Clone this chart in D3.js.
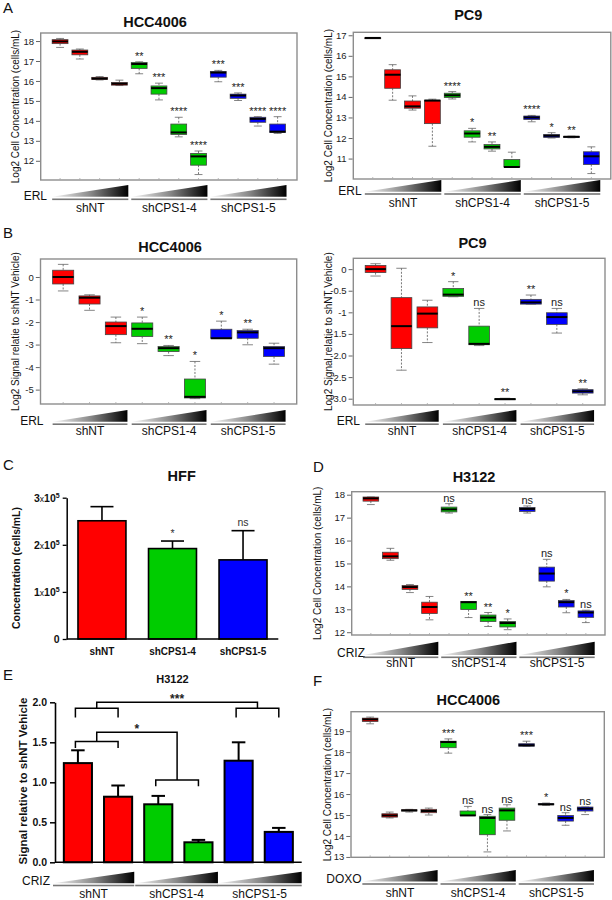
<!DOCTYPE html>
<html><head><meta charset="utf-8">
<script src="https://cdn.jsdelivr.net/npm/d3@7"></script>
<style>
body{margin:0;background:#fff}
svg{display:block;font-family:"Liberation Sans",Arial,Helvetica,sans-serif}
</style>
</head><body>
<svg id="fig" width="612" height="900"></svg>
<script>
// ---------------- DATA ----------------
const groups = ["shNT", "shCPS1-4", "shCPS1-5"];
const groupColors = ["#ff0000", "#00cc00", "#0000ff"];

// Panel A, HCC4006 + ERL (12 boxes, 4 per group)
const aHccGroup = [0,0,0,0,1,1,1,1,2,2,2,2];
const aHccHi  = [18.13,17.60,16.22,16.04,16.96,15.89,14.18,12.49,16.53,15.40,14.21,14.21];
const aHccQ3  = [18.07,17.55,16.18,15.92,16.93,15.75,13.84,12.37,16.47,15.34,14.18,13.84];
const aHccMed = [17.98,17.46,16.12,15.86,16.85,15.64,13.42,12.22,16.42,15.27,14.10,13.46];
const aHccQ1  = [17.87,17.31,16.07,15.79,16.63,15.34,13.32,11.78,16.19,15.13,13.93,13.42];
const aHccLo  = [17.68,17.10,16.05,15.77,16.36,15.05,13.20,11.31,15.96,15.02,13.74,13.37];
const aHccSig = ["","","","","**","***","****","****","***","***","****","****"];
const aHccTicks = [12,13,14,15,16,17,18];

// Panel A, PC9 + ERL
const aPc9Group = [0,0,0,0,1,1,1,1,2,2,2,2];
const aPc9Hi  = [16.88,15.57,14.05,13.89,14.26,12.47,11.81,11.31,13.10,12.26,12.09,11.57];
const aPc9Q3  = [16.88,15.32,13.80,13.84,14.18,12.35,11.68,10.95,13.07,12.17,12.08,11.33];
const aPc9Med = [16.87,15.08,13.54,13.82,14.08,12.22,11.57,10.59,13.00,12.11,12.06,11.11];
const aPc9Q1  = [16.86,14.42,13.45,12.70,13.97,12.04,11.47,10.59,12.90,12.03,12.03,10.71];
const aPc9Lo  = [16.86,13.84,13.36,11.60,13.90,11.81,11.36,10.59,12.79,12.00,12.01,10.27];
const aPc9Sig = ["","","","","****","*","**","","****","*","**",""];
const aPc9Ticks = [11,12,13,14,15,16,17];

// Panel B, HCC4006 + ERL (9 boxes, 3 per group)
const bHccGroup = [0,0,0,1,1,1,2,2,2];
const bHccHi  = [0.56,-0.79,-1.78,-1.78,-3.04,-3.75,-1.96,-2.32,-2.94];
const bHccQ3  = [0.30,-0.84,-2.00,-2.04,-3.09,-4.53,-2.32,-2.38,-3.09];
const bHccMed = [0.00,-0.92,-2.18,-2.30,-3.16,-5.32,-2.72,-2.46,-3.16];
const bHccQ1  = [-0.31,-1.20,-2.56,-2.64,-3.31,-5.37,-2.72,-2.72,-3.53];
const bHccLo  = [-0.62,-1.48,-2.92,-2.96,-3.49,-5.40,-2.72,-3.01,-3.87];
const bHccSig = ["","","","*","**","*","*","**",""];
const bHccTicks = [0,-1,-2,-3,-4,-5];
const bHccTickLabels = ["0","-1","-2","-3","-4","-5"];

// Panel B, PC9 + ERL
const bPc9Group = [0,0,0,1,1,1,2,2,2];
const bPc9Hi  = [0.125,0.02,-0.72,-0.29,-0.91,-2.99,-0.60,-0.91,-2.77];
const bPc9Q3  = [0.086,-0.66,-0.875,-0.45,-1.32,-3.00,-0.70,-1.01,-2.79];
const bPc9Med = [0.00,-1.32,-1.03,-0.59,-1.73,-3.01,-0.77,-1.11,-2.83];
const bPc9Q1  = [-0.08,-1.84,-1.36,-0.63,-1.75,-3.02,-0.81,-1.28,-2.87];
const bPc9Lo  = [-0.16,-2.34,-1.70,-0.64,-1.77,-3.02,-0.81,-1.48,-2.91];
const bPc9Sig = ["","","","*","ns","**","**","ns","**"];
const bPc9Ticks = [0,-0.5,-1,-1.5,-2,-2.5,-3];
const bPc9TickLabels = ["0","-0.5","-1","-1.5","-2.0","-2.5","-3.0"];

// Panel C, HFF bar chart
const cMean = [2.51e5, 1.92e5, 1.68e5];
const cSem  = [0.30e5, 0.16e5, 0.62e5];
const cSig  = ["", "*", "ns"];
const cTicks = [0, 1e5, 2e5, 3e5];

// Panel D, H3122 + CRIZ
const dGroup = [0,0,0,0,1,1,1,1,2,2,2,2];
const dHi  = [17.90,15.66,14.08,13.56,17.61,13.34,12.86,12.58,17.51,15.18,13.43,12.96];
const dQ3  = [17.90,15.49,14.04,13.31,17.46,13.34,12.75,12.47,17.44,14.84,13.38,12.93];
const dMed = [17.84,15.31,13.97,13.10,17.36,13.31,12.64,12.40,17.38,14.56,13.31,12.86];
const dQ1  = [17.72,15.21,13.87,12.82,17.25,12.99,12.47,12.23,17.27,14.23,13.10,12.65];
const dLo  = [17.57,15.14,13.73,12.54,17.20,12.64,12.25,12.11,17.20,13.98,12.85,12.42];
const dSig = ["","","","","ns","**","**","*","ns","ns","*","ns"];
const dTicks = [12,13,14,15,16,17,18];

// Panel E, H3122 bar chart + CRIZ
const eGroup = [0,0,1,1,2,2];
const eMean = [1.24, 0.82, 0.725, 0.25, 1.27, 0.38];
const eSem  = [0.16, 0.14, 0.105, 0.03, 0.23, 0.05];
const eTicks = [0, 0.5, 1.0, 1.5, 2.0];
const eTickLabels = ["0.0","0.5","1.0","1.5","2.0"];
const eBrackets = [
  {label: "***", a: [0,1], b: [4,5], top: 2.0,   subA: 1.925, subB: 1.925, end: 0.115},
  {label: "*",   a: [0,1], b: [2,3], top: 1.625, subA: 1.51,  subB: 1.03,  end: 0.08}
];

// Panel F, HCC4006 + DOXO
const fGroup = [0,0,0,0,1,1,1,1,2,2,2,2];
const fHi  = [19.67,15.14,15.27,15.33,18.63,15.41,15.02,15.49,18.52,15.57,15.11,15.38];
const fQ3  = [19.62,15.06,15.25,15.27,18.52,15.19,14.94,15.33,18.40,15.54,14.98,15.38];
const fMed = [19.56,14.98,15.22,15.19,18.48,14.98,14.86,15.22,18.33,15.51,14.86,15.30];
const fQ1  = [19.46,14.90,15.19,15.11,18.21,14.98,14.06,14.75,18.28,15.49,14.71,15.19];
const fLo  = [19.35,14.86,15.14,15.00,17.95,14.98,13.24,14.24,18.28,15.46,14.51,15.02];
const fSig = ["","","","","***","ns","ns","ns","***","*","ns","ns"];
const fTicks = [13,14,15,16,17,18,19];

// ---------------- DRAWING ----------------
const FONT = '"Liberation Sans", Arial, Helvetica, sans-serif';
const svg = d3.select("#fig");
const defs = svg.append("defs");
const grad = defs.append("linearGradient").attr("id","wedgeGrad")
  .attr("x1","0").attr("x2","1").attr("y1","0").attr("y2","0");
grad.append("stop").attr("offset","0").attr("stop-color","#f6f6f6");
grad.append("stop").attr("offset","0.5").attr("stop-color","#8a8a8a");
grad.append("stop").attr("offset","1").attr("stop-color","#000");

function txt(g, s, x, y, opt = {}) {
  return g.append("text").attr("x", x).attr("y", y).text(s)
    .attr("font-family", FONT)
    .attr("font-size", opt.size || 10)
    .attr("font-weight", opt.weight || "normal")
    .attr("text-anchor", opt.anchor || "start")
    .attr("fill", opt.fill || "#111");
}
function ylabel(g, s, x, cy, opt = {}) {
  return g.append("text").attr("transform", `translate(${x},${cy}) rotate(-90)`)
    .attr("dy", "0.35em").text(s)
    .attr("font-family", FONT).attr("font-size", opt.size || 10)
    .attr("font-weight", opt.weight || "normal")
    .attr("text-anchor", "middle").attr("fill", "#111");
}
function wedge(g, x0, x1, top, bot, lineY) {
  g.append("path").attr("d", `M${x0},${bot} L${x1},${top} L${x1},${bot} Z`)
    .attr("fill", "url(#wedgeGrad)");
  g.append("rect").attr("x", x0).attr("y", lineY - 0.8).attr("width", x1 - x0).attr("height", 1.6)
    .attr("fill", "#777");
}

function boxPanel(c) {
  const g = svg.append("g");
  const n = c.med.length;
  const F = c.frame;
  const x = d3.scaleLinear().domain([0.5 - 0.04 * n, n + 0.5 + 0.04 * n]).range([F.x, F.x + F.w]);
  const all = c.hi.concat(c.lo);
  const mn = d3.min(all), mx = d3.max(all), ext = 0.04 * (mx - mn);
  const y = d3.scaleLinear().domain([mn - ext, mx + ext]).range([F.y + F.h, F.y]);
  const step = x(2) - x(1), bw = 0.8 * step;

  g.append("rect").attr("x", F.x).attr("y", F.y).attr("width", F.w).attr("height", F.h)
    .attr("fill", "none").attr("stroke", "#8d8d8d").attr("stroke-width", 1.4);
  d3.range(n).forEach(i => {
    g.append("line").attr("x1", x(i + 1)).attr("x2", x(i + 1))
      .attr("y1", F.y + F.h).attr("y2", F.y + F.h - 2).attr("stroke", "#aaa").attr("stroke-width", 0.8);
  });
  const axis = d3.axisLeft(y).tickValues(c.ticks).tickSize(4).tickPadding(2)
    .tickFormat((d, i) => c.tickLabels ? c.tickLabels[i] : String(d));
  const ag = g.append("g").attr("transform", `translate(${F.x - 0.7},0)`).call(axis);
  ag.select(".domain").remove();
  ag.attr("font-family", FONT).attr("font-size", 9.5);
  ag.selectAll("line").attr("stroke", "#666");
  ag.selectAll("text").attr("fill", "#222");

  for (let i = 0; i < n; i++) {
    const cx = x(i + 1);
    const col = groupColors[c.group[i]];
    g.append("line").attr("x1", cx).attr("x2", cx).attr("y1", y(c.hi[i])).attr("y2", y(c.q3[i]))
      .attr("stroke", "#555").attr("stroke-width", 0.8).attr("stroke-dasharray", "2,1.5");
    g.append("line").attr("x1", cx).attr("x2", cx).attr("y1", y(c.q1[i])).attr("y2", y(c.lo[i]))
      .attr("stroke", "#555").attr("stroke-width", 0.8).attr("stroke-dasharray", "2,1.5");
    [c.hi[i], c.lo[i]].forEach(v => {
      g.append("line").attr("x1", cx - bw / 4).attr("x2", cx + bw / 4).attr("y1", y(v)).attr("y2", y(v))
        .attr("stroke", "#666").attr("stroke-width", 0.8);
    });
    const yt = y(c.q3[i]), yb = y(c.q1[i]);
    g.append("rect").attr("x", cx - bw / 2).attr("y", yt).attr("width", bw).attr("height", Math.max(1, yb - yt))
      .attr("fill", col).attr("stroke", "#444").attr("stroke-width", 0.8);
    g.append("line").attr("x1", cx - bw / 2).attr("x2", cx + bw / 2).attr("y1", y(c.med[i])).attr("y2", y(c.med[i]))
      .attr("stroke", "#000").attr("stroke-width", 2);
    if (c.sig[i]) txt(g, c.sig[i], cx, y(c.hi[i]) - 2, {size: 11, anchor: "middle", fill: "#222"});
  }

  txt(g, c.title.text, c.title.x, c.title.y, {size: 14.5, weight: "bold", anchor: "middle"});
  if (c.letter) txt(g, c.letter.text, c.letter.x, c.letter.y, {size: 15});
  ylabel(g, c.ylab, c.ylabX, F.y + F.h / 2, {size: 10});

  const W = c.wedge;
  txt(g, c.drug, W.drugX, W.drugY, {size: 12, anchor: "end"});
  groups.forEach((name, gi) => {
    const idx = d3.range(n).filter(i => c.group[i] === gi);
    const x0 = x(idx[0] + 1) - bw / 2, x1 = x(idx[idx.length - 1] + 1) + bw / 2 + 1;
    wedge(g, x0, x1, W.top, W.bot, W.line);
    txt(g, name, (x0 + x1) / 2, W.labelY, {size: 12, anchor: "middle"});
  });
}

// ---- Panel A
boxPanel({
  frame: {x: 40.7, y: 33, w: 256.3, h: 147},
  group: aHccGroup, hi: aHccHi, q3: aHccQ3, med: aHccMed, q1: aHccQ1, lo: aHccLo, sig: aHccSig,
  ticks: aHccTicks,
  title: {text: "HCC4006", x: 155, y: 26.7},
  letter: {text: "A", x: 3, y: 12.5},
  ylab: "Log2 Cell Concentration (cells/mL)", ylabX: 15.5,
  drug: "ERL",
  wedge: {top: 185, bot: 196.7, line: 199.3, labelY: 211.7, drugX: 47, drugY: 200}
});
boxPanel({
  frame: {x: 353.3, y: 32.3, w: 257.5, h: 146.7},
  group: aPc9Group, hi: aPc9Hi, q3: aPc9Q3, med: aPc9Med, q1: aPc9Q1, lo: aPc9Lo, sig: aPc9Sig,
  ticks: aPc9Ticks,
  title: {text: "PC9", x: 468.3, y: 20},
  ylab: "Log2 Cell Concentration (cells/mL)", ylabX: 328.5,
  drug: "ERL",
  wedge: {top: 180, bot: 191.7, line: 194, labelY: 206.5, drugX: 361.7, drugY: 195}
});
// ---- Panel B
boxPanel({
  frame: {x: 40.5, y: 259, w: 256.2, h: 145},
  group: bHccGroup, hi: bHccHi, q3: bHccQ3, med: bHccMed, q1: bHccQ1, lo: bHccLo, sig: bHccSig,
  ticks: bHccTicks, tickLabels: bHccTickLabels,
  title: {text: "HCC4006", x: 170, y: 251.7},
  letter: {text: "B", x: 3, y: 238},
  ylab: "Log2 Signal relatie to shNT Vehicle)", ylabX: 15.5,
  drug: "ERL",
  wedge: {top: 410, bot: 421.7, line: 424.2, labelY: 435, drugX: 43.5, drugY: 425}
});
boxPanel({
  frame: {x: 353.3, y: 258.3, w: 251.7, h: 146.7},
  group: bPc9Group, hi: bPc9Hi, q3: bPc9Q3, med: bPc9Med, q1: bPc9Q1, lo: bPc9Lo, sig: bPc9Sig,
  ticks: bPc9Ticks, tickLabels: bPc9TickLabels,
  title: {text: "PC9", x: 472.5, y: 248.3},
  ylab: "Log2 Signal relatie to shNT Vehicle)", ylabX: 328.5,
  drug: "ERL",
  wedge: {top: 410, bot: 421.7, line: 424.2, labelY: 435, drugX: 360, drugY: 425}
});
// ---- Panel D
boxPanel({
  frame: {x: 351.7, y: 491.7, w: 253.3, h: 143.3},
  group: dGroup, hi: dHi, q3: dQ3, med: dMed, q1: dQ1, lo: dLo, sig: dSig,
  ticks: dTicks,
  title: {text: "H3122", x: 474, y: 481.7},
  letter: {text: "D", x: 313, y: 471.5},
  ylab: "Log2 Cell Concentration (cells/mL)", ylabX: 317.5,
  drug: "CRIZ",
  wedge: {top: 641.7, bot: 655, line: 657.3, labelY: 667, drugX: 365, drugY: 656.5}
});
// ---- Panel F
boxPanel({
  frame: {x: 351, y: 711.7, w: 253.3, h: 145.6},
  group: fGroup, hi: fHi, q3: fQ3, med: fMed, q1: fQ1, lo: fLo, sig: fSig,
  ticks: fTicks,
  title: {text: "HCC4006", x: 468.3, y: 705},
  letter: {text: "F", x: 313, y: 685.5},
  ylab: "Log2 Cell Concentration (cells/mL)", ylabX: 327.5,
  drug: "DOXO",
  wedge: {top: 870, bot: 881.5, line: 884, labelY: 896.5, drugX: 361.7, drugY: 883.3}
});

// ---- Panel C (bar chart)
(function () {
  const g = svg.append("g");
  const x = d3.scaleBand().domain(groups).range([66.7, 278.3]).paddingInner(0.32).paddingOuter(0.16);
  const y = d3.scaleLinear().domain([0, 3e5]).range([639, 497.7]);
  const bw = x.bandwidth();
  groups.forEach((name, i) => {
    const cx = x(name) + bw / 2;
    g.append("line").attr("x1", cx).attr("x2", cx).attr("y1", y(cMean[i])).attr("y2", y(cMean[i] + cSem[i]))
      .attr("stroke", "#000").attr("stroke-width", 1.6);
    g.append("line").attr("x1", cx - bw * 0.24).attr("x2", cx + bw * 0.24)
      .attr("y1", y(cMean[i] + cSem[i])).attr("y2", y(cMean[i] + cSem[i]))
      .attr("stroke", "#000").attr("stroke-width", 1.6);
    g.append("rect").attr("x", x(name)).attr("y", y(cMean[i])).attr("width", bw).attr("height", y(0) - y(cMean[i]))
      .attr("fill", groupColors[i]).attr("stroke", "#000").attr("stroke-width", 1.6);
    if (cSig[i]) txt(g, cSig[i], cx, y(cMean[i] + cSem[i]) - 4.5, {size: 10.5, anchor: "middle", fill: "#333"});
    txt(g, name, cx, 655, {size: 10, weight: "bold", anchor: "middle"});
  });
  const axis = d3.axisLeft(y).tickValues(cTicks).tickSize(4).tickSizeOuter(0).tickPadding(3);
  const ag = g.append("g").attr("transform", "translate(66.7,0)").call(axis);
  ag.attr("font-family", FONT).attr("font-size", 10.5).attr("font-weight", "bold");
  ag.select(".domain").attr("stroke", "#000").attr("stroke-width", 1.5);
  ag.selectAll("line").attr("stroke", "#000").attr("stroke-width", 1.3);
  ag.selectAll("text").attr("fill", "#111").each(function (d) {
    const t = d3.select(this);
    t.text(null);
    if (d === 0) { t.text("0"); return; }
    t.append("tspan").text(`${d / 1e5}`);
    t.append("tspan").attr("font-size", 8.5).attr("font-weight", "normal").text("x");
    t.append("tspan").text("10");
    t.append("tspan").attr("font-size", 7).attr("dy", -4).text("5");
  });
  g.append("line").attr("x1", 66.7).attr("x2", 278.3).attr("y1", 639).attr("y2", 639)
    .attr("stroke", "#000").attr("stroke-width", 1.5);
  txt(g, "HFF", 181.7, 480.7, {size: 14.5, weight: "bold", anchor: "middle"});
  txt(g, "C", 3, 470, {size: 15});
  ylabel(g, "Concentration (cells/mL)", 16.5, 568, {size: 10.4, weight: "bold"});
})();

// ---- Panel E (bar chart with brackets)
(function () {
  const g = svg.append("g");
  const L = 55, R = 301.7;
  const x = d3.scaleBand().domain(d3.range(eMean.length)).range([L, R]).paddingInner(0.3).paddingOuter(0.22);
  const y = d3.scaleLinear().domain([0, 2]).range([862.3, 702.3]);
  const bw = x.bandwidth();
  const cxOf = i => x(i) + bw / 2;
  eMean.forEach((m, i) => {
    const cx = cxOf(i);
    g.append("line").attr("x1", cx).attr("x2", cx).attr("y1", y(m)).attr("y2", y(m + eSem[i]))
      .attr("stroke", "#000").attr("stroke-width", 2);
    g.append("line").attr("x1", cx - bw * 0.24).attr("x2", cx + bw * 0.24)
      .attr("y1", y(m + eSem[i])).attr("y2", y(m + eSem[i])).attr("stroke", "#000").attr("stroke-width", 2);
    g.append("rect").attr("x", x(i)).attr("y", y(m)).attr("width", bw).attr("height", y(0) - y(m))
      .attr("fill", groupColors[eGroup[i]]).attr("stroke", "#000").attr("stroke-width", 2);
  });
  eBrackets.forEach(b => {
    const a1 = cxOf(b.a[0]) - 2.5, a2 = cxOf(b.a[1]), b1 = cxOf(b.b[0]) - 2.5, b2 = cxOf(b.b[1]);
    const ma = (a1 + a2) / 2, mb = (b1 + b2) / 2;
    const path = `M${a1},${y(b.subA - b.end)} L${a1},${y(b.subA)} L${a2},${y(b.subA)} L${a2},${y(b.subA - b.end)}` +
      ` M${b1},${y(b.subB - b.end)} L${b1},${y(b.subB)} L${b2},${y(b.subB)} L${b2},${y(b.subB - b.end)}` +
      ` M${ma},${y(b.subA)} L${ma},${y(b.top)} L${mb},${y(b.top)} L${mb},${y(b.subB)}`;
    g.append("path").attr("d", path).attr("fill", "none").attr("stroke", "#000").attr("stroke-width", 1.5);
    txt(g, b.label, (ma + mb) / 2, y(b.top) + 1, {size: 12, weight: "bold", anchor: "middle", fill: "#222"});
  });
  const axis = d3.axisLeft(y).tickValues(eTicks).tickSize(5).tickSizeOuter(0).tickPadding(3)
    .tickFormat((d, i) => eTickLabels[i]);
  const ag = g.append("g").attr("transform", `translate(${L},0)`).call(axis);
  ag.attr("font-family", FONT).attr("font-size", 10.5).attr("font-weight", "bold");
  ag.select(".domain").attr("stroke", "#000").attr("stroke-width", 1.6);
  ag.selectAll("line").attr("stroke", "#000").attr("stroke-width", 1.5);
  ag.selectAll("text").attr("fill", "#111");
  g.append("line").attr("x1", L).attr("x2", R).attr("y1", y(0)).attr("y2", y(0))
    .attr("stroke", "#000").attr("stroke-width", 1.6);
  txt(g, "H3122", 172.5, 683, {size: 11, weight: "bold", anchor: "middle"});
  txt(g, "E", 3, 680, {size: 15});
  ylabel(g, "Signal relative to shNT Vehicle", 23, 781, {size: 11.5, weight: "bold"});
  const T = (R - L) / 3;
  txt(g, "CRIZ", 50, 885, {size: 12, anchor: "end"});
  groups.forEach((name, gi) => {
    const x0 = L + gi * T - 2, x1 = L + (gi + 1) * T - 3 + gi * 1.5;
    wedge(g, x0, x1, 871.7, 883.3, 885.5);
    txt(g, name, (x0 + x1) / 2, 898, {size: 12, anchor: "middle"});
  });
})();
</script>
</body></html>
